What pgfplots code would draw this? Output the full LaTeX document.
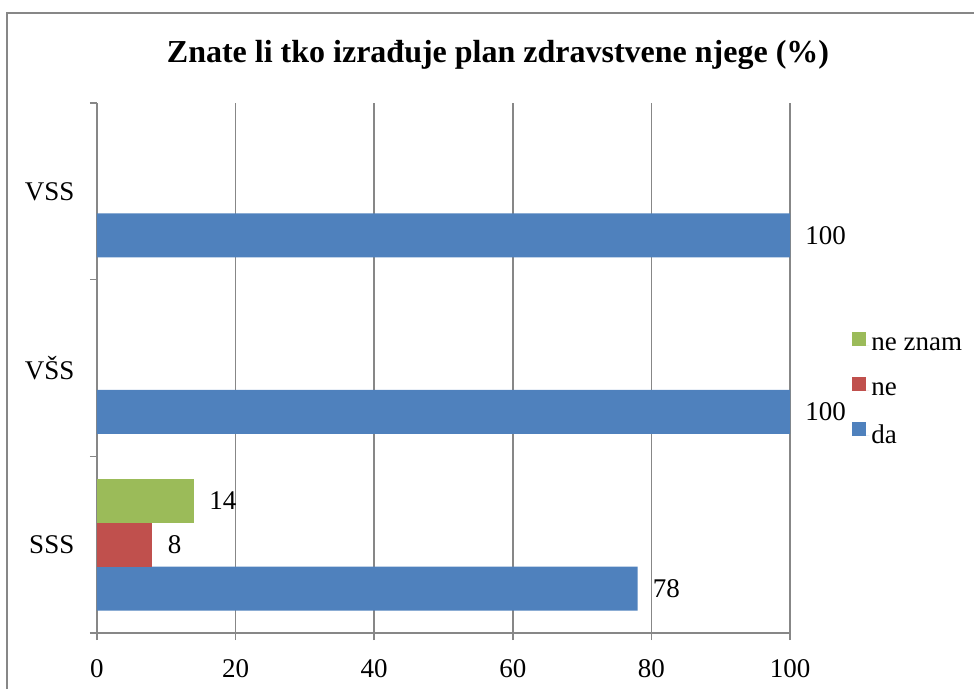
\documentclass[border=0pt]{standalone}
\usepackage{fontspec}
\setmainfont{Liberation Serif}
\usepackage{pgfplots}
\pgfplotsset{compat=1.18}
\definecolor{da}{HTML}{4F81BD}
\definecolor{ne}{HTML}{C0504D}
\definecolor{neznam}{HTML}{9BBB59}
\definecolor{gridc}{HTML}{878787}
\begin{document}
\begin{tikzpicture}
\useasboundingbox (0,0) rectangle (730.5pt,516.75pt);
\draw[gridc, line width=1.2pt] (5.25pt,0) -- (5.25pt,507pt) -- (730.5pt,507pt);
\node[anchor=base, font=\fontsize{24}{28}\selectfont\bfseries] at (373.5pt,469.5pt)
  {Znate li tko izrađuje plan zdravstvene njege (\%)};
\begin{axis}[
  at={(72.75pt,42pt)}, anchor=south west,
  scale only axis, width=519.75pt, height=397.5pt,
  xbar, bar width=33pt,
  xmin=0, xmax=100, ymin=-0.5, ymax=2.5,
  xtick={0,20,...,100},
  ytick={-0.5,0.5,1.5,2.5}, yticklabels={},
  extra y ticks={0,1,2}, extra y tick labels={SSS,VŠS,VSS},
  extra y tick style={major tick length=0pt, yticklabel style={xshift=-13.5pt}},
  tick align=outside, major tick length=5.25pt,
  xticklabel style={yshift=-11pt},
  xmajorgrids, grid style={gridc, line width=1.2pt},
  axis x line*=bottom, axis y line*=left,
  axis line style={gridc, line width=1.2pt, -},
  tick style={gridc, line width=1.2pt},
  ticklabel style={font=\fontsize{20.25}{24}\selectfont},
  /pgf/number format/assume math mode=true,
  nodes near coords,
  nodes near coords style={font=\fontsize{20.25}{24}\selectfont, anchor=west, xshift=8pt, text=black},
  reverse legend, legend cell align=left,
  legend style={draw=none, fill=none, at={(1.089,0.568)}, anchor=north west,
    font=\fontsize{20.25}{24}\selectfont, row sep=17pt, inner sep=0pt,
    nodes={inner sep=1.5pt}},
  legend image code/.code={\fill[#1] (0pt,-0.75pt) rectangle (10.5pt,9.75pt);
    \path (0pt,0pt) -- (13pt,0pt);},
]
\addplot[fill=da, draw=none, bar shift=-33pt] coordinates {(78,0) (100,1) (100,2)};
\addplot[fill=ne, draw=none, bar shift=0pt] coordinates {(8,0)};
\addplot[fill=neznam, draw=none, bar shift=33pt] coordinates {(14,0)};
\legend{da, ne, ne znam}
\end{axis}
\end{tikzpicture}
\end{document}
